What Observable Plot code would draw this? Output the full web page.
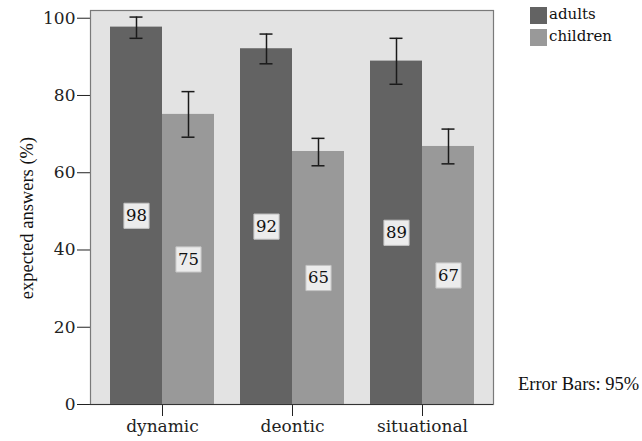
<!DOCTYPE html>
<html>
<head>
<meta charset="utf-8">
<script src="https://cdn.jsdelivr.net/npm/d3@7"></script>
<script src="https://cdn.jsdelivr.net/npm/@observablehq/plot@0.6"></script>
<style>
  body { margin: 0; background: #fff; }
  #wrap { position: relative; width: 642px; height: 441px; }
  #wrap svg { position: absolute; left: 0; top: 0; }
  .serif { font-family: "DejaVu Serif", serif; color: #111; }
  .times { font-family: "Liberation Serif", serif; color: #111; }
</style>
</head>
<body>
<div id="wrap"></div>
<script>
const categories = ["dynamic", "deontic", "situational"];
const groups = ["adults", "children"];
const adultsMean = [97.7, 92.1, 88.9];
const adultsLo = [94.8, 88.2, 82.9];
const adultsHi = [100.3, 95.9, 94.8];
const adultsLabel = [98, 92, 89];
const childrenMean = [75.1, 65.5, 66.8];
const childrenLo = [69.2, 61.8, 62.3];
const childrenHi = [81.0, 68.9, 71.3];
const childrenLabel = [75, 65, 67];
const yTicks = [0, 20, 40, 60, 80, 100];
const colors = {adults: "#636363", children: "#999999"};

const adults = categories.map((c, i) => ({category: c, group: "adults", value: adultsMean[i], lo: adultsLo[i], hi: adultsHi[i], label: adultsLabel[i]}));
const children = categories.map((c, i) => ({category: c, group: "children", value: childrenMean[i], lo: childrenLo[i], hi: childrenHi[i], label: childrenLabel[i]}));

const half = 52;      // half of band width (px)
const off = half / 2; // offset of bar centre from band centre
const capIn = off - 6.5;

function seriesMarks(data, side) {
  const left = side < 0;
  return [
    Plot.barY(data, {x: "category", y: "value", fill: colors[data[0].group],
      insetLeft: left ? 0 : half, insetRight: left ? half : 0}),
    Plot.ruleX(data, {x: "category", y1: "lo", y2: "hi", dx: side * off, stroke: "#1a1a1a", strokeWidth: 1.5}),
    Plot.tickY(data, {x: "category", y: "hi", stroke: "#1a1a1a", strokeWidth: 1.5,
      insetLeft: left ? capIn : half + capIn, insetRight: left ? half + capIn : capIn}),
    Plot.tickY(data, {x: "category", y: "lo", stroke: "#1a1a1a", strokeWidth: 1.5,
      insetLeft: left ? capIn : half + capIn, insetRight: left ? half + capIn : capIn}),
    Plot.dot(data, {x: "category", y: d => d.value / 2, dx: side * off, symbol: "square", r: 14.2,
      fill: "#ececec", stroke: "#c4c4c4", strokeWidth: 1}),
    Plot.text(data, {x: "category", y: d => d.value / 2, dx: side * off, text: "label",
      fill: "#111", fontSize: 16.5, fontFamily: "DejaVu Serif"})
  ];
}

const chart = Plot.plot({
  width: 642,
  height: 441,
  marginLeft: 90,
  marginRight: 149,
  marginTop: 10,
  marginBottom: 37,
  style: {fontFamily: "DejaVu Serif", fontSize: "17px", color: "#222", background: "transparent"},
  x: {type: "band", domain: categories, paddingInner: 0.2, paddingOuter: 0.15, label: null, tickSize: 12, tickPadding: 3},
  y: {domain: [0, 102], ticks: yTicks, label: null, tickSize: 13, tickPadding: 2},
  marks: [
    Plot.frame({fill: "#e3e3e3", stroke: null}),
    ...seriesMarks(adults, -1),
    ...seriesMarks(children, 1),
    Plot.frame({stroke: "#7a7a7a", strokeWidth: 1.2}),
    Plot.ruleY([0], {stroke: "#333", strokeWidth: 1.2})
  ]
});

const wrap = document.getElementById("wrap");
wrap.appendChild(chart);

function addDiv(html, css, cls) {
  const d = document.createElement("div");
  d.className = cls || "";
  d.innerHTML = html;
  d.style.cssText = "position:absolute;white-space:nowrap;" + css;
  wrap.appendChild(d);
  return d;
}

// legend
groups.forEach((g, i) => {
  addDiv("", `left:530px;top:${7 + i * 22}px;width:17px;height:17px;background:${colors[g]};`);
  addDiv(g, `left:549px;top:${5 + i * 22}px;font-size:15px;line-height:19px;`, "serif");
});

// y axis title
addDiv("expected answers (%)", "left:27px;top:218px;font-size:18.5px;line-height:20px;transform:translate(-50%,-50%) rotate(-90deg);", "times");

// error bar note
addDiv("Error Bars: 95%", "left:518px;top:374px;font-size:18.5px;line-height:20px;", "times");
</script>
</body>
</html>
